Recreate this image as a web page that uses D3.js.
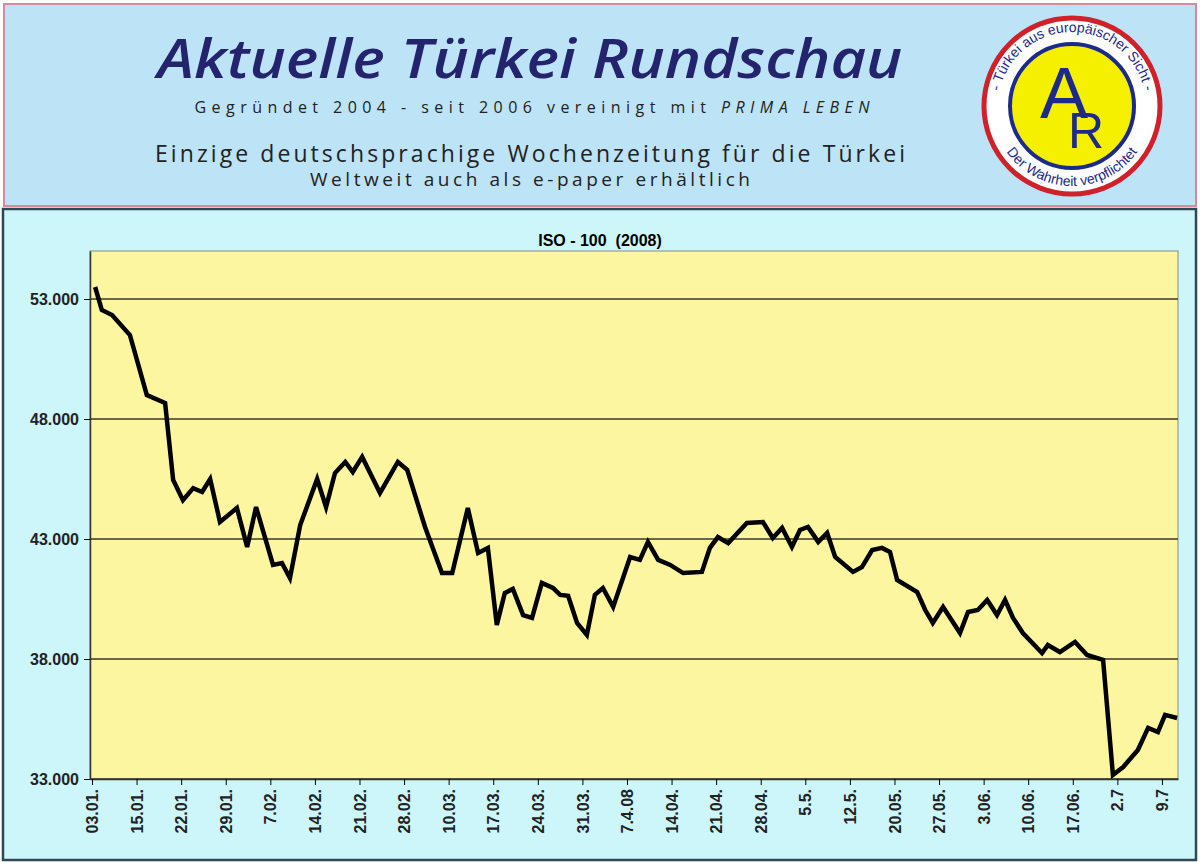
<!DOCTYPE html>
<html><head><meta charset="utf-8">
<script src="https://cdn.jsdelivr.net/npm/d3@7/dist/d3.min.js"></script>
<style>body{margin:0;background:#fff}svg{display:block}</style></head>
<body><svg id="c" width="1200" height="863"></svg>
<script>
const tickLabels=["03.01.","15.01.","22.01.","29.01.","7.02.","14.02.","21.02.","28.02.","10.03.","17.03.","24.03.","31.03.","7.4.08","14.04.","21.04.","28.04.","5.5.","12.5.","20.05.","27.05.","3.06.","10.06.","17.06.","2.7","9.7"];
const positions=[0.07,0.22,0.45,0.85,1.23,1.64,1.82,2.04,2.27,2.47,2.65,2.87,3.25,3.48,3.68,4.06,4.26,4.44,4.67,5.05,5.25,5.45,5.68,5.85,6.06,6.46,6.86,7.07,7.47,7.85,8.08,8.43,8.66,8.88,9.08,9.26,9.44,9.67,9.87,10.09,10.34,10.50,10.68,10.88,11.10,11.28,11.46,11.69,12.07,12.29,12.47,12.70,12.97,13.26,13.68,13.86,14.04,14.27,14.69,15.05,15.27,15.48,15.70,15.88,16.06,16.29,16.49,16.67,17.07,17.27,17.50,17.72,17.90,18.06,18.51,18.69,18.86,19.09,19.47,19.65,19.87,20.08,20.30,20.48,20.66,20.88,21.31,21.44,21.71,22.05,22.32,22.68,22.90,23.13,23.46,23.69,23.91,24.07,24.34];
const values=[53500,52540,52330,51500,49000,48670,45460,44620,45120,44960,45500,43710,44290,42670,44330,41920,42000,41370,43580,45500,44330,45750,46210,45790,46420,44920,46210,45880,43500,41580,41580,44290,42420,42630,39420,40750,40920,39830,39710,41170,40960,40670,40630,39500,39000,40670,40960,40170,42250,42130,42880,42130,41920,41580,41630,42630,43080,42830,43670,43710,43040,43460,42670,43375,43500,42880,43250,42250,41630,41830,42540,42630,42460,41290,40790,40040,39500,40170,39080,39960,40040,40460,39830,40460,39710,39080,38250,38580,38290,38710,38170,37960,33170,33500,34210,35130,34960,35670,35540];
const yTicks=[33000,38000,43000,48000,53000];
const data=positions.map((p,i)=>({p,v:values[i]}));

const svg=d3.select("#c");
const sans="'Open Sans', sans-serif";
svg.append("rect").attr("x",4).attr("y",4).attr("width",1192).attr("height",202).attr("fill","#bde3f6").attr("stroke","#d98a96").attr("stroke-width",2);
svg.append("text").attr("x",530).attr("y",78).attr("text-anchor","middle").attr("font-family",sans).attr("font-style","italic").attr("font-weight",600).attr("font-size",54).attr("fill","#24246e").attr("textLength",745).attr("lengthAdjust","spacingAndGlyphs").text("Aktuelle Türkei Rundschau");
const hs=svg.append("text").attr("x",532).attr("y",113).attr("text-anchor","middle").attr("font-family",sans).attr("font-size",16).attr("fill","#222").attr("textLength",675);
hs.append("tspan").text("Gegründet 2004  -  seit 2006 vereinigt mit  ");
hs.append("tspan").attr("font-style","italic").text("PRIMA LEBEN");
svg.append("text").attr("x",530).attr("y",162).attr("text-anchor","middle").attr("font-family",sans).attr("font-size",23).attr("fill","#222").attr("textLength",750).text("Einzige deutschsprachige Wochenzeitung für die Türkei");
svg.append("text").attr("x",530).attr("y",186).attr("text-anchor","middle").attr("font-family",sans).attr("font-size",19).attr("fill","#222").attr("textLength",440).text("Weltweit auch als e-paper erhältlich");
const lg=svg.append("g").attr("transform","translate(1072,106)");
lg.append("circle").attr("r",88).attr("fill","#fff").attr("stroke","#d0202a").attr("stroke-width",5);
lg.append("circle").attr("r",62).attr("fill","#f5f000").attr("stroke","#1c2a8c").attr("stroke-width",4);
const defs=svg.append("defs");
defs.append("path").attr("id","arcTop").attr("d","M -74 0 A 74 74 0 0 1 74 0");
defs.append("path").attr("id","arcBot").attr("d","M -80 0 A 80 80 0 0 0 80 0");
lg.append("text").attr("font-family","Liberation Sans, Arial").attr("font-size",14).attr("fill","#1c2a8c").append("textPath").attr("href","#arcTop").attr("startOffset","50%").attr("text-anchor","middle").text("- Türkei aus europäischer Sicht -");
lg.append("text").attr("font-family","Liberation Sans, Arial").attr("font-size",14).attr("fill","#1c2a8c").append("textPath").attr("href","#arcBot").attr("startOffset","50%").attr("text-anchor","middle").text("Der Wahrheit verpflichtet");
lg.append("text").attr("x",-8).attr("y",12).attr("text-anchor","middle").attr("font-family","Liberation Sans, Arial").attr("font-size",72).attr("fill","#1c2a8c").text("A");
lg.append("text").attr("x",14).attr("y",42).attr("text-anchor","middle").attr("font-family","Liberation Sans, Arial").attr("font-size",50).attr("fill","#1c2a8c").text("R");

svg.append("rect").attr("x",3).attr("y",209).attr("width",1193).attr("height",651).attr("fill","#cdf6fb").attr("stroke","#2b4a55").attr("stroke-width",2.5);
const L=90,R=1178,T=251,B=779;
const x=d3.scaleLinear().domain([-0.045,24.36]).range([L,R]);
const y=d3.scaleLinear().domain([33000,55000]).range([B,T]);
svg.append("rect").attr("x",L).attr("y",T).attr("width",R-L).attr("height",B-T).attr("fill","#fdf6a0").attr("stroke","#8a8a8a").attr("stroke-width",1);
svg.append("g").selectAll("line").data(yTicks).join("line").attr("x1",L).attr("x2",R).attr("y1",d=>y(d)).attr("y2",d=>y(d)).attr("stroke","#3a3a22").attr("stroke-width",1.5);
svg.append("text").attr("x",600).attr("y",246).attr("text-anchor","middle").attr("font-family","Liberation Sans, Arial").attr("font-weight","bold").attr("font-size",16).style("white-space","pre").text("ISO - 100  (2008)");
const fmt=d=>d3.format(",")(d).replace(",",".");
const ya=svg.append("g").attr("transform",`translate(${L},0)`).call(d3.axisLeft(y).tickValues(yTicks).tickFormat(fmt).tickSize(6).tickSizeOuter(0).tickPadding(5));
ya.select(".domain").attr("stroke","#333").attr("stroke-width",1.5);
ya.selectAll("text").attr("font-family","Liberation Sans, Arial").attr("font-weight","bold").attr("font-size",16).attr("fill","#222");
const xa=svg.append("g").attr("transform",`translate(0,${B})`).call(d3.axisBottom(x).tickValues(d3.range(tickLabels.length)).tickFormat(i=>tickLabels[i]).tickSize(6).tickSizeOuter(0));
xa.select(".domain").attr("stroke","#333").attr("stroke-width",1.5);
xa.selectAll("text").attr("font-family","Liberation Sans, Arial").attr("font-weight","bold").attr("font-size",16).attr("fill","#222")
  .attr("transform","rotate(-90)").attr("text-anchor","end").attr("x",-10).attr("y",0).attr("dy","0.35em");
svg.append("path").datum(data).attr("fill","none").attr("stroke","#000").attr("stroke-width",4.5).attr("stroke-linejoin","miter")
  .attr("d",d3.line().x(d=>x(d.p)).y(d=>y(d.v)));
</script></body></html>
